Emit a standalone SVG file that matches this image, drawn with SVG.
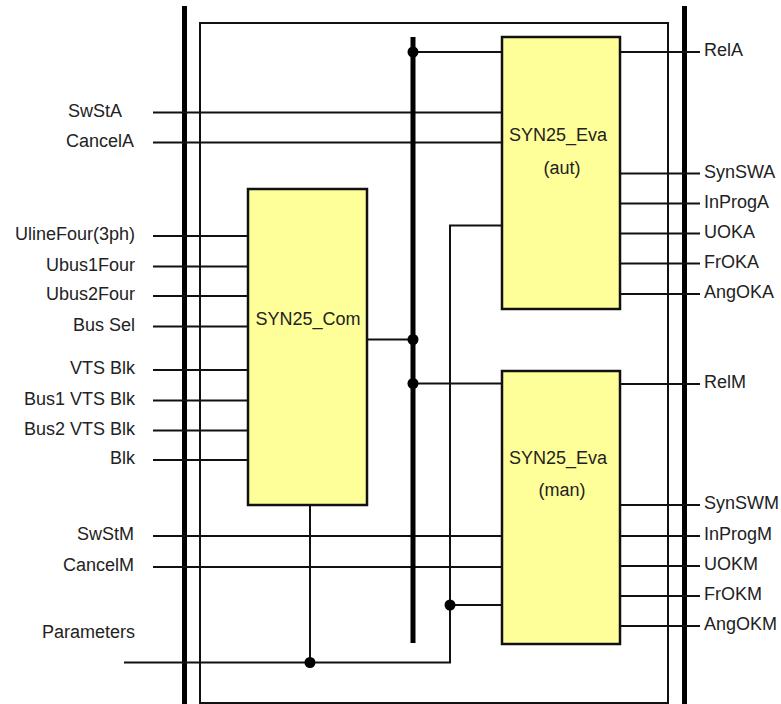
<svg xmlns="http://www.w3.org/2000/svg" width="781" height="704" viewBox="0 0 781 704">
<style>
text{font-family:"Liberation Sans",Arial,sans-serif;font-size:18px;fill:#222}
.l{text-anchor:end}
.c{text-anchor:middle}
.w{stroke:#111;stroke-width:2;fill:none}
.bar{stroke:#000;stroke-width:5;fill:none}
.box{fill:#FFFF99;stroke:#111;stroke-width:2.5}
.dot{fill:#000}
</style>
<rect width="781" height="704" fill="#fff"/>
<g id="frame">
<line class="bar" x1="184.5" y1="6" x2="184.5" y2="704"/>
<line class="bar" x1="684.5" y1="6" x2="684.5" y2="704"/>
<rect x="200" y="23" width="468" height="680" fill="none" stroke="#111" stroke-width="2"/>
</g>
<g id="connectors">
<line class="w" x1="153" y1="112.5" x2="502" y2="112.5"/>
<line class="w" x1="153" y1="142.5" x2="502" y2="142.5"/>
<line class="w" x1="153" y1="236" x2="248" y2="236"/>
<line class="w" x1="153" y1="266.5" x2="248" y2="266.5"/>
<line class="w" x1="153" y1="296" x2="248" y2="296"/>
<line class="w" x1="153" y1="326.5" x2="248" y2="326.5"/>
<line class="w" x1="153" y1="370" x2="248" y2="370"/>
<line class="w" x1="153" y1="400.5" x2="248" y2="400.5"/>
<line class="w" x1="153" y1="430.5" x2="248" y2="430.5"/>
<line class="w" x1="153" y1="460" x2="248" y2="460"/>
<line class="w" x1="153" y1="536" x2="502" y2="536"/>
<line class="w" x1="153" y1="567" x2="502" y2="567"/>
<polyline class="w" points="124,662.5 450,662.5 450,225.5 502,225.5"/>
<line class="w" x1="450" y1="605" x2="502" y2="605"/>
<line class="w" x1="310" y1="505" x2="310" y2="662.5"/>
<line class="w" x1="367" y1="339.5" x2="413" y2="339.5"/>
<line class="w" x1="413" y1="52" x2="502" y2="52"/>
<line class="w" x1="413" y1="383.5" x2="502" y2="383.5"/>
<line class="bar" x1="413" y1="37" x2="413" y2="643"/>
<line class="w" x1="620" y1="52" x2="700" y2="52"/>
<line class="w" x1="620" y1="173.5" x2="700" y2="173.5"/>
<line class="w" x1="620" y1="203.5" x2="700" y2="203.5"/>
<line class="w" x1="620" y1="233.5" x2="700" y2="233.5"/>
<line class="w" x1="620" y1="263.5" x2="700" y2="263.5"/>
<line class="w" x1="620" y1="294" x2="700" y2="294"/>
<line class="w" x1="620" y1="384" x2="700" y2="384"/>
<line class="w" x1="620" y1="505" x2="700" y2="505"/>
<line class="w" x1="620" y1="536" x2="700" y2="536"/>
<line class="w" x1="620" y1="566" x2="700" y2="566"/>
<line class="w" x1="620" y1="596" x2="700" y2="596"/>
<line class="w" x1="620" y1="626" x2="700" y2="626"/>
<circle class="dot" cx="413" cy="52" r="5.5"/>
<circle class="dot" cx="413" cy="339.5" r="5.5"/>
<circle class="dot" cx="413" cy="383.5" r="5.5"/>
<circle class="dot" cx="450" cy="605" r="5.5"/>
<circle class="dot" cx="310" cy="662.5" r="5.5"/>
</g>
<g id="com">
<rect class="box" x="248" y="189" width="119" height="316"/>
<text class="c" x="308" y="325">SYN25_Com</text>
</g>
<g id="eva-aut">
<rect class="box" x="502" y="37" width="118" height="272"/>
<text class="c" x="558" y="141">SYN25_Eva</text>
<text class="c" x="562" y="174">(aut)</text>
</g>
<g id="eva-man">
<rect class="box" x="502" y="371" width="118" height="273"/>
<text class="c" x="558" y="464">SYN25_Eva</text>
<text class="c" x="562" y="496">(man)</text>
</g>
<g id="inputs">
<text class="l" x="122" y="116.5">SwStA</text>
<text class="l" x="134" y="146.5">CancelA</text>
<text class="l" x="135" y="240">UlineFour(3ph)</text>
<text class="l" x="135" y="270.5">Ubus1Four</text>
<text class="l" x="135" y="300">Ubus2Four</text>
<text class="l" x="135" y="330.5">Bus Sel</text>
<text class="l" x="135" y="374">VTS Blk</text>
<text class="l" x="135" y="404.5">Bus1 VTS Blk</text>
<text class="l" x="135" y="434.5">Bus2 VTS Blk</text>
<text class="l" x="135" y="464">Blk</text>
<text class="l" x="134" y="540">SwStM</text>
<text class="l" x="134" y="571">CancelM</text>
<text class="l" x="135" y="638">Parameters</text>
</g>
<g id="outputs">
<text x="704" y="56">RelA</text>
<text x="704" y="177.5">SynSWA</text>
<text x="704" y="207.5">InProgA</text>
<text x="704" y="237.5">UOKA</text>
<text x="704" y="267.5">FrOKA</text>
<text x="704" y="298">AngOKA</text>
<text x="704" y="388">RelM</text>
<text x="704" y="509">SynSWM</text>
<text x="704" y="540">InProgM</text>
<text x="704" y="570">UOKM</text>
<text x="704" y="600">FrOKM</text>
<text x="704" y="630">AngOKM</text>
</g>
</svg>
